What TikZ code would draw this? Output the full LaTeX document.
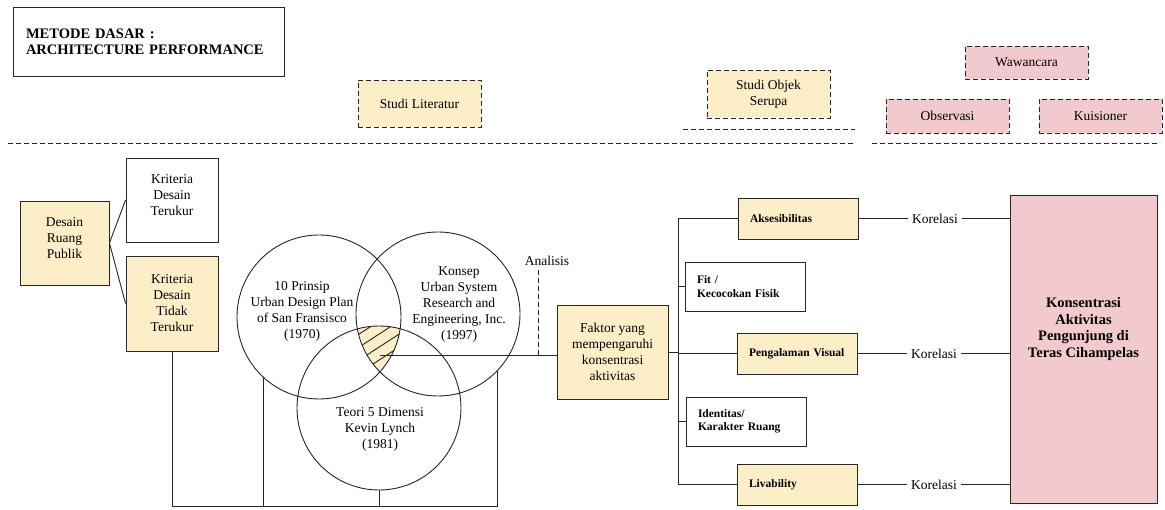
\documentclass[tikz,border=0pt]{standalone}
\usepackage{fontspec}
\setmainfont{Liberation Serif}
\usetikzlibrary{positioning}
\definecolor{cream}{HTML}{FCEFC8}
\definecolor{rose}{HTML}{F2CACE}

\begin{document}
\begin{tikzpicture}[x=1pt, y=-1pt, font=\fontsize{13.5}{16}\selectfont,
  line width=0.9pt, color=black!85, node distance=8pt and 50pt,
  base/.style={draw, align=center, inner sep=3pt, text=black},
  tan/.style={base, fill=cream},
  plain/.style={base, fill=white},
  pinkbox/.style={base, fill=rose},
  src/.style={base, dash pattern=on 5pt off 3pt, minimum width=123pt},
  factor/.style={font=\fontsize{11.5}{13.5}\selectfont\bfseries, inner xsep=12pt, text width=96pt, align=left},
  ring/.style={circle, draw, minimum size=164pt, inner sep=0pt, outer sep=0pt},
  words/.style={align=center, text=black},
  guide/.style={dash pattern=on 5pt off 3pt}]
\useasboundingbox (0,0) rectangle (1165,510);

% heading and data sources
\node[base, minimum width=271pt, minimum height=69pt, text width=245pt, align=left,
  font=\fontsize{14.5}{16}\selectfont\bfseries] (title) at (148.5,41.5)
  {METODE DASAR :\\ARCHITECTURE PERFORMANCE};
\node[src, fill=cream, minimum height=47pt] (lit) at (419.5,103.5) {Studi Literatur};
\node[src, fill=cream, minimum height=48pt] (obj) at (768.5,94) {Studi Objek\\Serupa};
\node[src, fill=rose, minimum height=33pt] (waw) at (1026.5,62.5) {Wawancara};
\node[src, fill=rose, minimum height=34pt] (obs) at (947.5,116) {Observasi};
\node[src, fill=rose, minimum height=34pt] (kui) at (1100.5,116) {Kuisioner};
\draw[guide] (8,143) -- (855,143);
\draw[guide] (683,129) -- (855,129);
\draw[guide] (872,143) -- (1160,143);

% criteria
\node[tan, minimum width=89pt, minimum height=84pt] (publik) at (64.5,243) {Desain\\Ruang\\Publik\\[-6pt]};
\node[plain, minimum width=92pt, minimum height=84pt] (terukur) at (172,200) {Kriteria\\Desain\\Terukur\\[-6pt]};
\node[tan, minimum width=92pt, minimum height=95pt] (tidak) at (172,303.5) {Kriteria\\Desain\\Tidak\\Terukur};
\draw (publik.east) -- (terukur.west);
\draw (publik.east) -- (tidak.west);

% theories
\begin{scope}
  \clip (319,317) circle (82pt);
  \clip (438,314) circle (82pt);
  \clip (379,408) circle (82pt);
  \fill[cream] (330,300) rectangle (430,400);
  \foreach \k in {340,353,...,430}
    \draw (330,\k) -- ++(100,-65);
\end{scope}
\node[ring] (prinsip) at (319,317) {};
\node[ring] (konsep) at (438,314) {};
\node[ring] (lynch) at (379,408) {};
\node[words] (t1) at (302,311) {10 Prinsip\\Urban Design Plan\\of San Fransisco\\(1970)};
\node[words] (t2) at (459,305) {Konsep\\Urban System\\Research and\\Engineering, Inc.\\(1997)};
\node[words] (t3) at (380,429) {Teori 5 Dimensi\\Kevin Lynch\\(1981)};
\coordinate (floor) at (172,506);
\draw (tidak.south) -- (tidak.south |- floor) -- (konsep.-44 |- floor) -- (konsep.-44);
\draw (prinsip.-133) -- (prinsip.-133 |- floor);
\draw (lynch.south) -- (lynch.south |- floor);

% analysis
\coordinate (hub) at (380,355);
\node[tan, minimum width=111pt, minimum height=94pt] (faktor) at (612.5,352)
  {Faktor yang\\mempengaruhi\\konsentrasi\\aktivitas};
\draw (hub) -- (hub -| faktor.west);
\node[words] (analisis) at (547,261) {Analisis};
\coordinate (foot) at (538,355);
\draw[guide] (foot |- analisis.south) -- (foot);

% factors
\coordinate (spine) at (678,218);
\node[tan, factor, minimum height=41pt] (aks) at (798,218.5) {Aksesibilitas};
\node[plain, factor, minimum height=49pt] (fit) at (745,286.5) {Fit /\\Kecocokan Fisik};
\node[tan, factor, minimum height=41pt] (visual) at (797,353.5) {Pengalaman Visual};
\node[plain, factor, minimum height=49pt] (identitas) at (746,421.5) {Identitas/\\Karakter Ruang};
\node[tan, factor, minimum height=41pt] (live) at (797,484.5) {Livability};
\draw (faktor.east) -- (faktor.east -| spine);
\draw (spine |- aks.west) -- (spine |- live.west);
\foreach \b in {aks,fit,visual,identitas,live}
  \draw (spine |- \b.west) -- (\b.west);

% result
\node[pinkbox, minimum width=147pt, minimum height=308pt] (big) at (1083.5,349) {};
\node[words, font=\fontsize{14.5}{16.5}\selectfont\bfseries] (bigtext) at (1083.5,329)
  {Konsentrasi\\Aktivitas\\Pengunjung di\\Teras Cihampelas};
\node[words, right=of aks] (kor1) {Korelasi};
\node[words, right=of visual] (kor2) {Korelasi};
\node[words, right=of live] (kor3) {Korelasi};
\foreach \b/\k in {aks/kor1,visual/kor2,live/kor3}
  \draw (\b.east) -- (\k.west) (\k.east) -- (\k.east -| big.west);
\end{tikzpicture}
\end{document}
